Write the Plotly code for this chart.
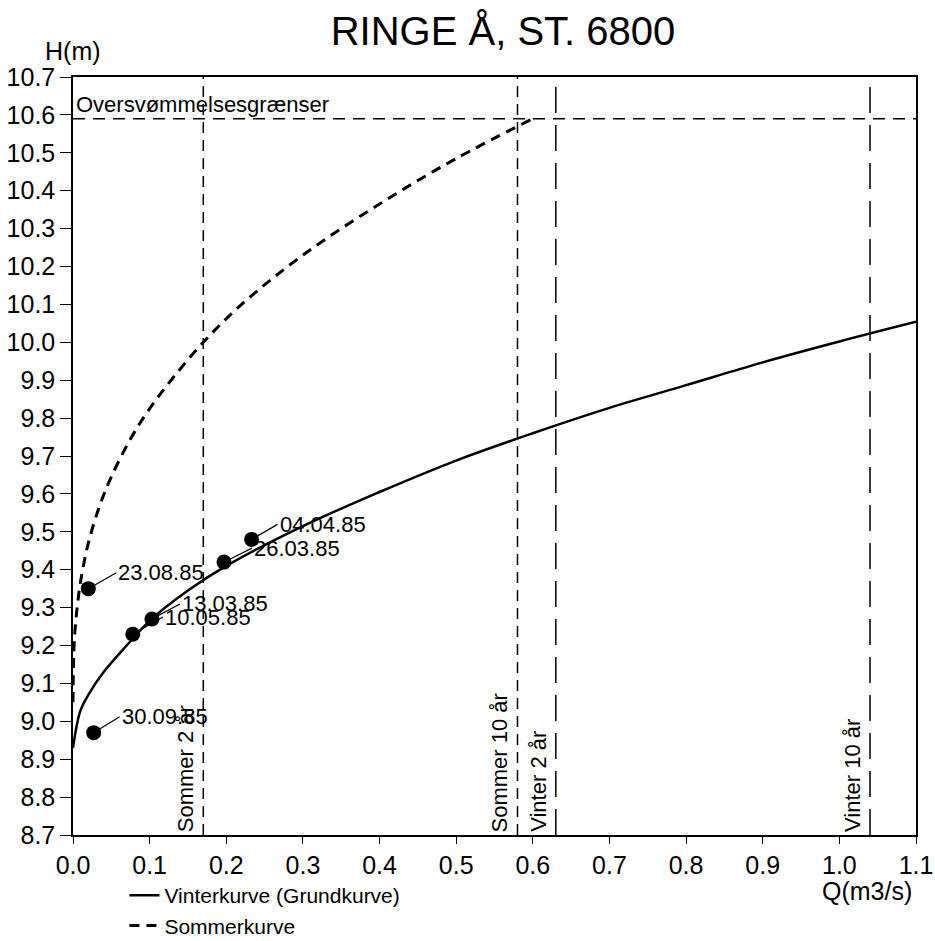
import plotly.graph_objects as go

# ---------------- data ----------------
winter_q = [0.0, 0.005, 0.01, 0.02, 0.04, 0.07, 0.1, 0.15, 0.2, 0.3, 0.4, 0.5,
            0.6, 0.7, 0.8, 0.9, 1.0, 1.1]
winter_h = [8.93, 8.99, 9.03, 9.07, 9.13, 9.20, 9.265, 9.345, 9.41, 9.515, 9.605,
            9.688, 9.76, 9.827, 9.887, 9.947, 10.002, 10.054]

summer_q = [0.0, 0.001, 0.003, 0.006, 0.01, 0.02, 0.035, 0.05, 0.075, 0.1, 0.13,
            0.17, 0.22, 0.3, 0.4, 0.5, 0.6]
summer_h = [9.05, 9.18, 9.25, 9.31, 9.37, 9.47, 9.57, 9.645, 9.745, 9.825, 9.905,
            10.0, 10.1, 10.23, 10.365, 10.485, 10.59]

obs_q = [0.02, 0.027, 0.078, 0.103, 0.197, 0.233]
obs_h = [9.35, 8.97, 9.23, 9.27, 9.42, 9.48]
obs_dates = ["23.08.85", "30.09.85", "10.05.85", "13.03.85", "26.03.85", "04.04.85"]

design_q = [0.17, 0.58, 0.63, 1.04]
design_labels = ["Sommer 2 år", "Sommer 10 år", "Vinter 2 år", "Vinter 10 år"]

flood_level = 10.59
flood_label = "Oversvømmelsesgrænser"

x_ticks = [0.0, 0.1, 0.2, 0.3, 0.4, 0.5, 0.6, 0.7, 0.8, 0.9, 1.0, 1.1]
y_ticks = [8.7, 8.8, 8.9, 9.0, 9.1, 9.2, 9.3, 9.4, 9.5, 9.6, 9.7, 9.8, 9.9,
           10.0, 10.1, 10.2, 10.3, 10.4, 10.5, 10.6, 10.7]

# ---------------- styles ----------------
FONT = "Liberation Sans, Arial, sans-serif"
label_offsets = [(28, -16), (26, -16), (30, -17), (28, -15), (28, -14), (26, -15)]
design_dash = ["11px,7px", "11px,7px", "26px,12px", "26px,12px"]

fig = go.Figure()

fig.add_trace(go.Scatter(
    x=winter_q, y=winter_h, mode="lines", line_shape="spline",
    line=dict(color="black", width=2.5),
    name="Vinterkurve (Grundkurve)"))

fig.add_trace(go.Scatter(
    x=summer_q, y=summer_h, mode="lines", line_shape="spline",
    line=dict(color="black", width=3, dash="10px,7px"),
    name="Sommerkurve"))

fig.add_trace(go.Scatter(
    x=obs_q, y=obs_h, mode="markers",
    marker=dict(color="black", size=15),
    showlegend=False))

for q, h, d, (ax, ay) in zip(obs_q, obs_h, obs_dates, label_offsets):
    fig.add_annotation(x=q, y=h, text=d, showarrow=True, arrowhead=0,
                       arrowwidth=1.2, arrowcolor="black", ax=ax, ay=ay,
                       xanchor="left", yanchor="middle", standoff=6,
                       font=dict(size=22, color="black", family=FONT))

for q, lab, dash in zip(design_q, design_labels, design_dash):
    fig.add_vline(x=q, line=dict(color="black", width=1.5, dash=dash))
    fig.add_annotation(x=q, y=8.7, text=lab, textangle=-90, showarrow=False,
                       xanchor="right", yanchor="bottom", xshift=-3, yshift=1,
                       font=dict(size=22, color="black", family=FONT))

fig.add_hline(y=flood_level, line=dict(color="black", width=1.5, dash="12px,8px"))
fig.add_annotation(x=0, y=flood_level, text=flood_label, showarrow=False,
                   xanchor="left", yanchor="bottom", xshift=1, yshift=0,
                   font=dict(size=22, color="black", family=FONT))

# axis titles
fig.add_annotation(xref="paper", yref="paper", x=0.0, y=1.034, text="H(m)",
                   showarrow=False, xanchor="center", yanchor="middle",
                   font=dict(size=25, color="black", family=FONT))
fig.add_annotation(xref="paper", yref="paper", x=0.942, y=-0.074, text="Q(m3/s)",
                   showarrow=False, xanchor="center", yanchor="middle",
                   font=dict(size=25, color="black", family=FONT))

fig.update_layout(
    width=935, height=941,
    margin=dict(l=73, r=19, t=77, b=106, autoexpand=False),
    paper_bgcolor="white", plot_bgcolor="white",
    font=dict(family=FONT, color="black"),
    title=dict(text="RINGE Å, ST. 6800", x=0.538, xref="container", xanchor="center",
               y=0.967, yref="container", yanchor="middle",
               font=dict(size=40, color="black", family=FONT)),
    showlegend=True,
    legend=dict(x=0.061, y=0.07, xanchor="left", yanchor="top",
                yref="container",
                font=dict(size=21, color="black", family=FONT),
                bgcolor="rgba(0,0,0,0)", tracegroupgap=0),
)

fig.update_xaxes(range=[0, 1.1], tickvals=x_ticks, tickformat=".1f", automargin=False,
                 showgrid=False, zeroline=False, showline=True, mirror=True,
                 linecolor="black", linewidth=1.5, ticks="outside", ticklen=7,
                 tickwidth=1.2, tickcolor="black",
                 tickfont=dict(size=25, color="black", family=FONT))
fig.update_yaxes(range=[8.7, 10.7], tickvals=y_ticks, tickformat=".1f", automargin=False,
                 showgrid=False, zeroline=False, showline=True, mirror=True,
                 linecolor="black", linewidth=1.5, ticks="outside", ticklen=11,
                 tickwidth=1.2, tickcolor="black",
                 tickfont=dict(size=25, color="black", family=FONT))

fig.write_html("out.html")
